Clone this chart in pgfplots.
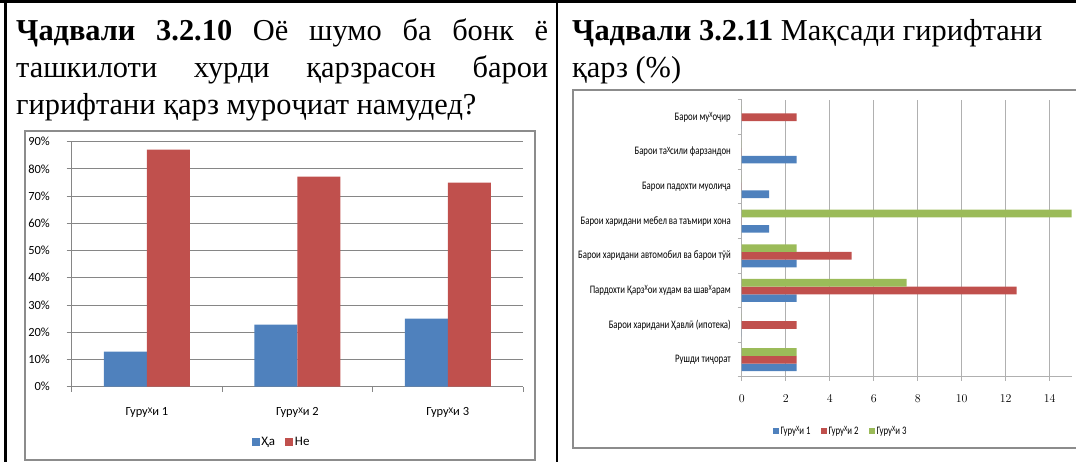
\documentclass[border=0pt]{standalone}
\usepackage{fontspec}
\setmainfont{Liberation Serif}
\newfontfamily\calfont{Carlito}
\newfontfamily\calnarrow[FakeStretch=0.765]{Carlito}
\usepackage{pgfplots}
\pgfplotsset{compat=1.18}
\definecolor{cblue}{RGB}{79,129,189}
\definecolor{cred}{RGB}{192,80,77}
\definecolor{cgreen}{RGB}{155,187,89}
\definecolor{gridc}{RGB}{134,134,134}
\definecolor{gridl}{RGB}{176,176,176}
\definecolor{framec}{RGB}{140,140,140}
\newcommand\hx{\raisebox{0.45ex}{\scalebox{0.7}{Х}}}

\pgfplotstableread{
x ha ne
0 12.9 87.1
1 22.8 77.2
2 25.0 75.0
}\leftdata

\pgfplotstableread{
y g1 g2 g3
0 2.5 2.5 2.5
1 0 2.5 0
2 2.5 12.5 7.5
3 2.5 5 2.5
4 1.25 0 15
5 1.25 0 0
6 2.5 0 0
7 0 2.5 0
}\rightdata

\begin{document}
\begin{tikzpicture}[x=1bp,y=1bp]
\useasboundingbox (0,0) rectangle (1076,462);
% table rules
\draw[line width=3bp] (0,460.5) -- (1076,460.5);
\draw[line width=2.5bp] (5.5,462) -- (5.5,0);
\draw[line width=2bp] (556.5,462) -- (556.5,0);
% chart frames
\draw[framec, line width=1.5bp] (25,2) rectangle (535,331);
\draw[framec, line width=1.5bp] (1077,372) -- (573,372) -- (573,14) -- (1077,14);
% titles
\node[anchor=north west, inner sep=0pt, text width=532bp, align=justify,
  font=\fontsize{30.5}{37}\selectfont] at (16,443)
  {\hyphenpenalty=10000 \textbf{Ҷадвали 3.2.10} Оё шумо ба бонк ё\linebreak ташкилоти хурди қарзрасон барои\linebreak гирифтани қарз муроҷиат намудед?};
\node[anchor=north west, inner sep=0pt, align=left,
  font=\fontsize{30.5}{37}\selectfont] at (572,443)
  {\textbf{Ҷадвали 3.2.11} Мақсади гирифтани\\ қарз (\%)};

\begin{axis}[
  at={(71.7bp,75.3bp)}, anchor=south west, scale only axis,
  width=451.3bp, height=245bp,
  ybar=0pt, bar width=43bp,
  ymin=0, ymax=90, xmin=-0.5, xmax=2.5,
  axis lines*=left, axis line style={-, draw=gridc, line width=1bp},
  ytick={0,10,...,90},
  yticklabel={\pgfmathparse{int(\tick)}\pgfmathresult\%},
  ymajorgrids, grid style={draw=gridc, line width=1bp},
  xtick={0,1,2},
  xticklabels={Гуру\hx и 1, Гуру\hx и 2, Гуру\hx и 3},
  minor xtick={-0.5,0.5,1.5,2.5},
  tick align=outside,
  major x tick style={draw=none},
  minor tick length=5bp, major tick length=5bp,
  tick style={draw=gridc, line width=1bp},
  yticklabel style={inner sep=0pt, xshift=-16.7bp, font=\calfont\fontsize{12.5}{14}\selectfont},
  xticklabel style={inner sep=0pt, anchor=center, yshift=-21bp, font=\calfont\fontsize{12.5}{14}\selectfont},
  legend style={at={(0.465,-0.2257)}, anchor=center, draw=none, fill=none,
    legend columns=2, font=\calfont\fontsize{13}{14}\selectfont,
    /tikz/every even column/.append style={column sep=8bp}},
  legend image code/.code={\fill[#1] (0bp,-4bp) rectangle (8bp,4bp);},
]
\addplot[fill=cblue, draw=none] table[x=x, y=ha] {\leftdata};
\addplot[fill=cred, draw=none] table[x=x, y=ne] {\leftdata};
\legend{Ҳа, Не}
\end{axis}

\begin{axis}[
  at={(741.7bp,85bp)}, anchor=south west, scale only axis,
  width=330bp, height=277bp,
  xbar=0pt, bar width=7.67bp,
  xmin=0, xmax=15, ymin=-0.5, ymax=7.5,
  axis lines*=left, axis line style={-, draw=gridl, line width=1bp},
  xtick={0,2,...,14},
  xmajorgrids, grid style={draw=gridl, line width=1bp},
  ytick={0,...,7},
  yticklabels={Рушди тиҷорат, Барои харидани Ҳавлӣ (ипотека), Пардохти Қарз\hx ои худам ва шав\hx арам, Барои харидани автомобил ва барои тӯй, Барои харидани мебел ва таъмири хона, Барои падохти муолиҷа, Барои та\hx сили фарзандон, Барои му\hx оҷир},
  minor ytick={-0.5,0.5,...,7.5},
  tick align=outside,
  major y tick style={draw=none},
  minor tick length=4bp, major tick length=4bp,
  tick style={draw=gridl, line width=1bp},
  yticklabel style={inner sep=0pt, xshift=-6.7bp, font=\calnarrow\fontsize{11.5}{13}\selectfont},
  xticklabel style={inner sep=0pt, anchor=center, yshift=-18bp, font=\calnarrow\fontsize{11.5}{13}\selectfont},
  legend style={at={(0.2994,-0.195)}, anchor=center, draw=none, fill=none,
    legend columns=3, font=\calnarrow\fontsize{11.5}{13}\selectfont,
    /tikz/every even column/.append style={column sep=8bp}},
  legend image code/.code={\fill[#1] (0bp,-3bp) rectangle (6bp,3bp);},
]
\addplot[fill=cblue, draw=none] table[x=g1, y=y] {\rightdata};
\addplot[fill=cred, draw=none] table[x=g2, y=y] {\rightdata};
\addplot[fill=cgreen, draw=none] table[x=g3, y=y] {\rightdata};
\legend{Гуру\hx и 1, Гуру\hx и 2, Гуру\hx и 3}
\end{axis}
\end{tikzpicture}
\end{document}
